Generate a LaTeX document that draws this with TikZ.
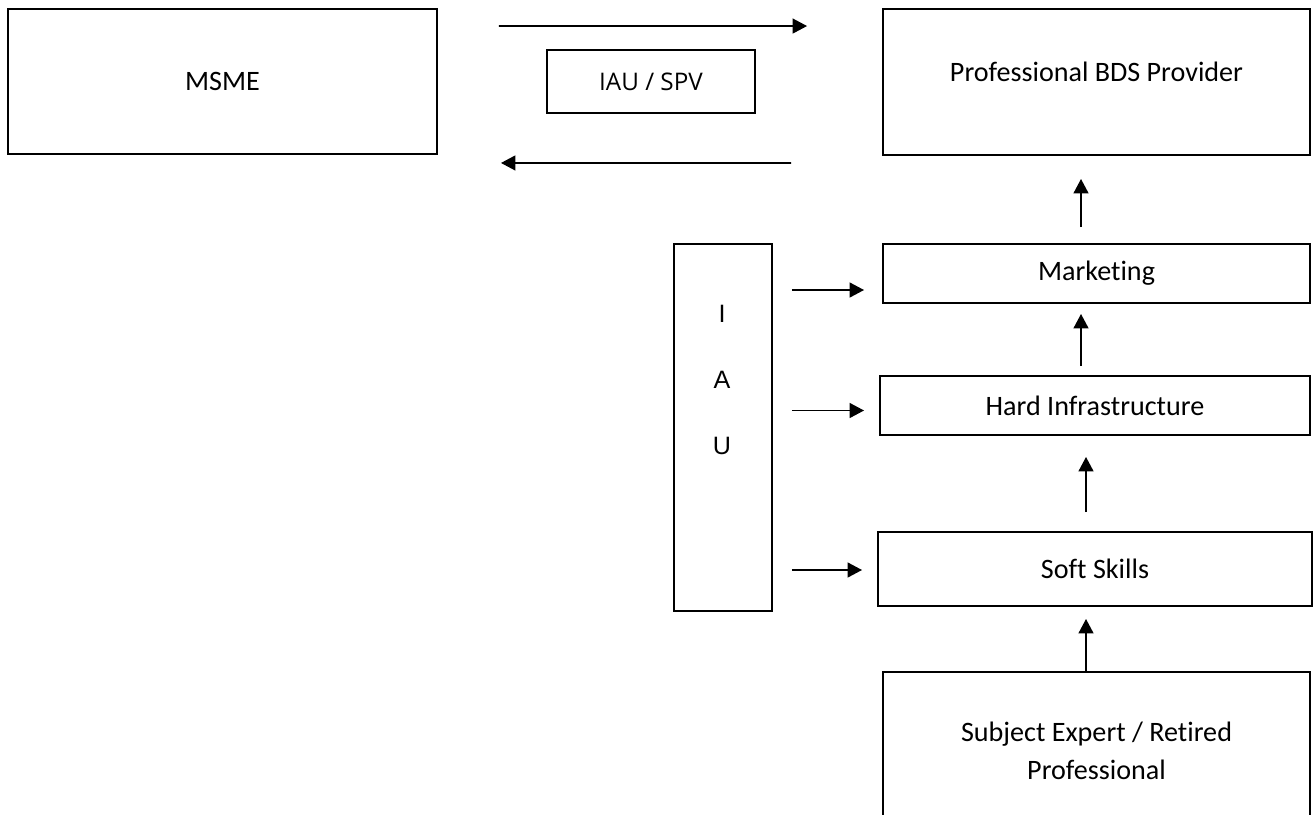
\documentclass[tikz,border=0pt]{standalone}
\usepackage{fontspec}
\setmainfont{Carlito}[Ligatures=NoCommon]
\newfontfamily\iaufont{Open Sans}
\newfontfamily\barfont{Liberation Sans}
\usetikzlibrary{arrows.meta, calc}

\begin{document}
\begin{tikzpicture}[
    blk/.style={draw=black, line width=1.1pt, inner sep=0pt, align=center, font=\fontsize{16}{21.6}\selectfont},
    arrow/.style={-{Triangle[length=0.29cm, width=0.3cm]}, line width=0.9pt},
]
\useasboundingbox (0,0) rectangle (26.3,-16.28);
\clip (0,0) rectangle (26.3,-16.28);

% Top row
\node[blk, minimum width=8.58cm, minimum height=2.9cm] (msme) at (4.45,-1.63) {MSME};
\node[blk, minimum width=4.16cm, minimum height=1.26cm, font=\iaufont\fontsize{13.8}{16}\selectfont] (iauspv) at (13.02,-1.63) {IAU / SPV};
\node[blk, minimum width=8.54cm, minimum height=2.92cm, text depth=0.4cm] (bds) at (21.93,-1.64) {Professional BDS Provider};

% Right column
\node[blk, minimum width=8.54cm, minimum height=1.18cm] (mkt) at (21.93,-5.47) {Marketing};
\node[blk, minimum width=8.6cm, minimum height=1.18cm] (hard) at (21.9,-8.11) {Hard Infrastructure};
\node[blk, minimum width=8.68cm, minimum height=1.48cm] (soft) at (21.9,-11.38) {Soft Skills};
\node[blk, minimum width=8.54cm, minimum height=3.16cm] (expert) at (21.93,-15.02) {Subject Expert / Retired\\Professional};

% IAU bar
\node[blk, minimum width=1.96cm, minimum height=7.34cm] (iau) at (14.46,-8.55) {};
\node[align=center, inner sep=0pt, font=\barfont\fontsize{14.3}{37.5}\selectfont] (iaulbl) at (14.44,-7.6) {I\\A\\U};

% Arrows between MSME and BDS provider
\draw[arrow] ($(msme.north east)+(1.22,-0.36)$) -- ($(bds.north west)+(-1.5,-0.36)$);
\draw[arrow] ($(bds.south west)+(-1.82,-0.14)$) -- ($(msme.south east)+(1.26,-0.16)$);

% Arrows up the column
\draw[arrow] ($(expert.north)+(-0.21,0)$) -- ($(soft.south)+(-0.18,-0.24)$);
\draw[arrow] ($(soft.north)+(-0.18,0.38)$) -- ($(hard.south)+(-0.18,-0.42)$);
\draw[arrow] ($(hard.north)+(-0.28,0.18)$) -- ($(mkt.south)+(-0.31,-0.2)$);
\draw[arrow] ($(mkt.north)+(-0.31,0.32)$) -- ($(bds.south)+(-0.31,-0.46)$);

% Arrows from IAU
\foreach \t/\dy/\dx in {mkt/-0.33/-0.36, hard/-0.1/-0.3, soft/-0.02/-0.3} {
    \draw[arrow] ($(iau.east |- \t.west)+(0.38,\dy)$) -- ($(\t.west)+(\dx,\dy)$);
}

\end{tikzpicture}
\end{document}
